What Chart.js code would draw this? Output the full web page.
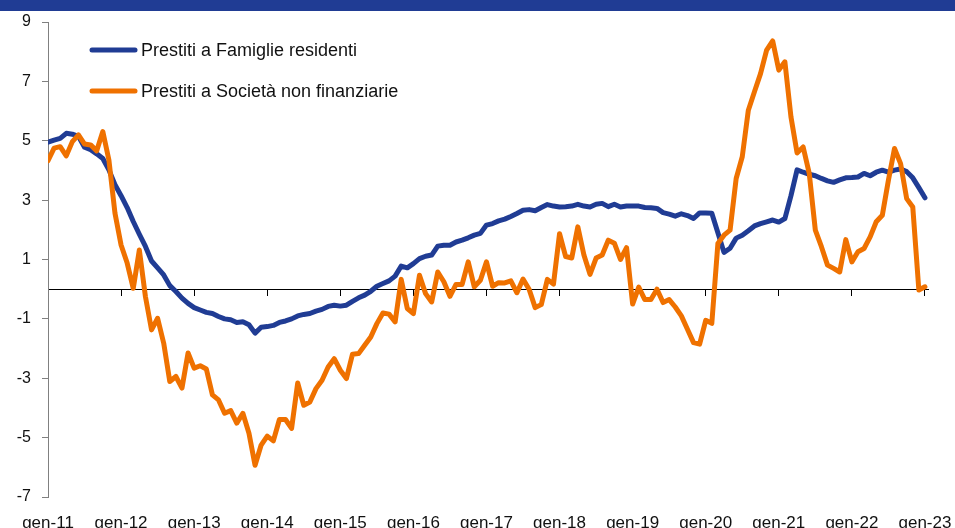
<!DOCTYPE html>
<html>
<head>
<meta charset="utf-8">
<script src="https://cdn.jsdelivr.net/npm/chart.js@4"></script>
<style>
  html, body { margin: 0; padding: 0; background: #fff; overflow: hidden; }
  #wrap { width: 955px; height: 528px; position: relative; }
</style>
</head>
<body>
<div id="wrap"><canvas id="chart"></canvas></div>
<script>
// etichette asse x (una ogni 12 mesi, da gen-11)
const xLabels = ["gen-11", "gen-12", "gen-13", "gen-14", "gen-15", "gen-16", "gen-17",
  "gen-18", "gen-19", "gen-20", "gen-21", "gen-22", "gen-23"];

const seriesNames = ["Prestiti a Famiglie residenti", "Prestiti a Società non finanziarie"];

// variazioni % mensili, gen-11 ... gen-23
const famiglie = [
  4.95, 5.02, 5.08, 5.25, 5.22, 5.15, 4.78, 4.70, 4.56, 4.40, 4.02, 3.52,
  3.15, 2.75, 2.28, 1.85, 1.44, 0.95, 0.72, 0.48, 0.12, -0.08, -0.30, -0.48,
  -0.62, -0.70, -0.78, -0.82, -0.92, -1.00, -1.03, -1.12, -1.10, -1.20, -1.48, -1.28,
  -1.26, -1.22, -1.12, -1.07, -1.00, -0.90, -0.85, -0.82, -0.74, -0.68, -0.58, -0.54,
  -0.57, -0.54, -0.41, -0.29, -0.20, -0.07, 0.10, 0.19, 0.28, 0.44, 0.78, 0.72,
  0.86, 1.03, 1.11, 1.15, 1.45, 1.48, 1.48, 1.59, 1.65, 1.73, 1.82, 1.88,
  2.16, 2.21, 2.30, 2.36, 2.45, 2.55, 2.66, 2.68, 2.64, 2.75, 2.85, 2.80,
  2.77, 2.78, 2.80, 2.86, 2.80, 2.77, 2.86, 2.89, 2.78, 2.86, 2.77, 2.80,
  2.80, 2.80, 2.75, 2.74, 2.72, 2.58, 2.53, 2.46, 2.54, 2.48, 2.38, 2.57,
  2.57, 2.56, 1.90, 1.24, 1.38, 1.72, 1.82, 1.97, 2.13, 2.21, 2.27, 2.33,
  2.26, 2.38, 3.15, 4.02, 3.94, 3.87, 3.82, 3.73, 3.65, 3.60, 3.68, 3.75,
  3.76, 3.78, 3.90, 3.82, 3.94, 4.01, 3.94, 4.01, 4.05, 3.96, 3.75, 3.42,
  3.08
];

const societa = [
  4.33, 4.75, 4.80, 4.49, 4.97, 5.20, 4.89, 4.86, 4.66, 5.31, 4.35, 2.56,
  1.49, 0.88, 0.03, 1.32, -0.25, -1.37, -0.98, -1.82, -3.11, -2.94, -3.33, -2.15,
  -2.66, -2.58, -2.69, -3.56, -3.73, -4.18, -4.09, -4.51, -4.18, -4.85, -5.93, -5.25,
  -4.95, -5.11, -4.39, -4.39, -4.69, -3.16, -3.91, -3.80, -3.35, -3.07, -2.62, -2.34,
  -2.73, -3.01, -2.19, -2.17, -1.89, -1.61, -1.16, -0.80, -0.84, -1.10, 0.33, -0.65,
  -0.82, 0.47, -0.15, -0.43, 0.58, 0.25, -0.24, 0.16, 0.16, 0.92, 0.08, 0.30,
  0.92, 0.10, 0.22, 0.21, 0.28, -0.12, 0.34, 0.00, -0.62, -0.52, 0.33, 0.17,
  1.87, 1.10, 1.05, 2.10, 1.15, 0.50, 1.05, 1.15, 1.65, 1.55, 1.00, 1.40,
  -0.50, 0.07, -0.35, -0.35, 0.00, -0.45, -0.35, -0.60, -0.90, -1.35, -1.80, -1.85,
  -1.05, -1.15, 1.54, 1.82, 1.99, 3.73, 4.46, 6.03, 6.65, 7.26, 8.05, 8.36,
  7.38, 7.66, 5.80, 4.59, 4.79, 3.90, 1.99, 1.43, 0.81, 0.70, 0.58, 1.67,
  0.92, 1.26, 1.37, 1.76, 2.27, 2.49, 3.67, 4.74, 4.23, 3.05, 2.77, -0.03,
  0.08
];

const FONT = '"Liberation Sans", Arial, sans-serif';
// una tacca per ogni gennaio
const yearTicks = s => { s.ticks = xLabels.map((_, i) => ({ value: i * 12 })); };

// fascia blu in alto e legenda dentro l'area del grafico
const decor = {
  id: "decor",
  beforeDraw(chart) {
    const c = chart.ctx;
    c.save();
    c.fillStyle = "#203C94";
    c.fillRect(0, 0, chart.width, 11);
    c.restore();
  },
  afterDraw(chart) {
    const c = chart.ctx;
    c.save();
    c.font = "18px " + FONT;
    c.textBaseline = "middle";
    c.fillStyle = "#111";
    chart.data.datasets.forEach((ds, i) => {
      const y = 50 + i * 41;
      c.strokeStyle = ds.borderColor;
      c.lineWidth = 5;
      c.lineCap = "round";
      c.beginPath();
      c.moveTo(92, y);
      c.lineTo(135, y);
      c.stroke();
      c.fillText(ds.label, 141, y + 1);
    });
    c.restore();
  }
};

const ctx = document.getElementById("chart").getContext("2d");
new Chart(ctx, {
  type: "line",
  data: {
    datasets: [
      {
        label: seriesNames[0],
        data: famiglie.map((v, i) => ({ x: i, y: v })),
        borderColor: "#203C94",
        xAxisID: "x", yAxisID: "y",
        order: 1,
      },
      {
        label: seriesNames[1],
        data: societa.map((v, i) => ({ x: i, y: v })),
        borderColor: "#EF7100",
        xAxisID: "x", yAxisID: "y",
        order: 0,
      },
    ],
  },
  options: {
    responsive: true,
    maintainAspectRatio: false,
    animation: false,
    layout: { padding: { top: 22, right: 27, left: 0, bottom: 0 } },
    elements: {
      line: { borderWidth: 5, tension: 0, borderCapStyle: "round", borderJoinStyle: "round", fill: false },
      point: { radius: 0 },
    },
    plugins: {
      legend: { display: false },
      tooltip: { enabled: false },
    },
    scales: {
      x: {
        type: "linear",
        min: 0,
        max: 144.5,
        grid: { display: false, drawTicks: false },
        border: { display: false },
        afterBuildTicks: yearTicks,
        afterFit: s => { s.height = 31; s.paddingLeft = 0; s.paddingRight = 0; },
        ticks: {
          padding: 16,
          maxRotation: 0,
          autoSkip: false,
          color: "#111",
          font: { family: FONT, size: 17 },
          callback: v => xLabels[v / 12],
        },
      },
      // linea dello zero con le tacche annuali
      x0: {
        type: "linear",
        axis: "x",
        position: { y: 0 },
        min: 0,
        max: 144.5,
        afterBuildTicks: yearTicks,
        ticks: { display: false },
        grid: { drawOnChartArea: false, tickLength: 6, color: "#000", lineWidth: 1 },
        border: { color: "#000", width: 1 },
      },
      y: {
        min: -7,
        max: 9,
        afterFit: s => { s.width = 48; },
        ticks: { stepSize: 2, padding: 11, color: "#111", font: { family: FONT, size: 16 } },
        grid: { drawOnChartArea: false, tickLength: 6, color: "#808080" },
        border: { color: "#808080" },
      },
    },
  },
  plugins: [decor],
});
</script>
</body>
</html>
